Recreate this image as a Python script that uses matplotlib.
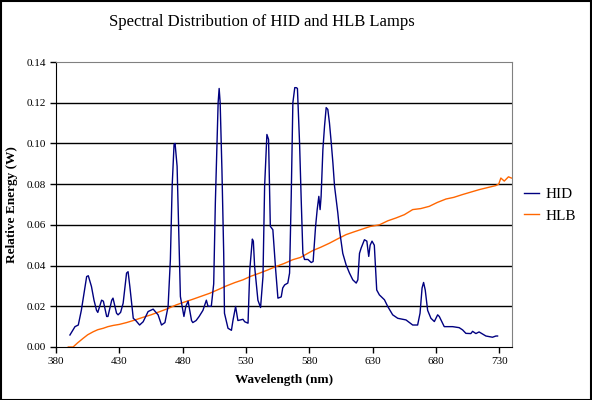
import matplotlib
matplotlib.use("Agg")
import matplotlib.pyplot as plt
from matplotlib.patches import Rectangle

# HID spectrum: (wavelength nm, relative energy W)
hid_points = [
    (391, 0.0059), (395, 0.0100), (397.6, 0.0108), (400, 0.0180), (402, 0.0260),
    (404.2, 0.0346), (405.5, 0.0350), (408, 0.0297), (410, 0.0230), (412, 0.0180),
    (413, 0.0170), (416, 0.0230), (417.4, 0.0225), (420, 0.0150), (421, 0.0150),
    (424, 0.0230), (425, 0.0240), (427.8, 0.0166), (429, 0.0158), (431, 0.0170),
    (433, 0.0215), (435.7, 0.0363), (436.9, 0.0370), (438.3, 0.0297), (441, 0.0141),
    (443, 0.0130), (446, 0.0108), (448.8, 0.0124), (452.7, 0.0174), (456.7, 0.0186),
    (460.6, 0.0158), (463.3, 0.0108), (466, 0.0120), (468.5, 0.0199), (470.3, 0.0430),
    (471.7, 0.0790), (473.2, 0.0995), (474, 0.1000), (475.6, 0.0888), (477, 0.0540),
    (478.2, 0.0248), (481, 0.0150), (482.5, 0.0200), (484.3, 0.0225), (487, 0.0130),
    (488, 0.0120), (490.6, 0.0130), (493, 0.0150), (496, 0.0180), (498.7, 0.0230),
    (500, 0.0200), (502.6, 0.0200), (504.5, 0.0310), (505.8, 0.0708), (507, 0.0987),
    (508, 0.1200), (508.8, 0.1270), (509.6, 0.1200), (511, 0.0870), (512.4, 0.0460),
    (513, 0.0166), (515.8, 0.0092), (518.5, 0.0082), (519.7, 0.0130), (521.8, 0.0199),
    (523.6, 0.0130), (527.6, 0.0136), (529, 0.0124), (531.6, 0.0117), (533, 0.0380),
    (535, 0.0530), (535.8, 0.0520), (536.8, 0.0396), (539.4, 0.0230), (541.5, 0.0194),
    (543.4, 0.0346), (544.7, 0.0790), (546.5, 0.1044), (547.8, 0.1020), (549.2, 0.0593),
    (551.2, 0.0576), (553.4, 0.0380), (555.2, 0.0240), (557.8, 0.0246), (559, 0.0290),
    (560.5, 0.0305), (563, 0.0314), (564.4, 0.0363), (565.7, 0.0740), (567, 0.1200),
    (568.5, 0.1274), (569.7, 0.1274), (570.6, 0.1270), (572.3, 0.1000), (573.6, 0.0720),
    (574.9, 0.0460), (576.2, 0.0430), (578.9, 0.0430), (581.5, 0.0415), (583, 0.0420),
    (584.9, 0.0590), (586.2, 0.0675), (587.5, 0.0740), (588.5, 0.0675), (589.3, 0.0740),
    (590.7, 0.0970), (592, 0.1085), (593.3, 0.1176), (594.6, 0.1167), (595.9, 0.1100),
    (597.3, 0.1003), (598.6, 0.0905), (599.9, 0.0790), (602.5, 0.0658), (603.8, 0.0576),
    (606.4, 0.0460), (609, 0.0404), (611.7, 0.0363), (614.3, 0.0330), (617, 0.0314),
    (618.3, 0.0330), (619.6, 0.0460), (620.9, 0.0486), (623.5, 0.0527), (625.4, 0.0520),
    (626.9, 0.0445), (628, 0.0500), (629.5, 0.0520), (631.3, 0.0500), (633.2, 0.0280),
    (635.3, 0.0256), (639.3, 0.0232), (641.9, 0.0199), (645.8, 0.0158), (649.8, 0.0141),
    (656.3, 0.0133), (661.6, 0.0108), (665.5, 0.0108), (667.4, 0.0166), (669, 0.0290),
    (670.2, 0.0317), (671.5, 0.0280), (673.4, 0.0180), (676, 0.0141), (678.7, 0.0125),
    (681.3, 0.0158), (682.6, 0.0150), (686.5, 0.0100), (693.1, 0.0100), (698.3, 0.0095),
    (701, 0.0084), (703.6, 0.0067), (707.5, 0.0066), (708.9, 0.0077), (711.5, 0.0066),
    (714, 0.0074), (719.4, 0.0054), (724.6, 0.0048), (727.3, 0.0054), (728.6, 0.0054),
]

# HLB spectrum
hlb_points = [
    (389.7, 0.0000), (393.5, 0.0000), (397, 0.0020), (401.5, 0.0043), (405, 0.0060),
    (409.4, 0.0075), (413, 0.0085), (417.3, 0.0092), (421, 0.0100), (425.2, 0.0106),
    (430, 0.0111), (435.7, 0.0120), (442, 0.0132), (448.8, 0.0146), (455, 0.0158),
    (462, 0.0174), (468, 0.0188), (475, 0.0207), (481, 0.0220), (488.2, 0.0235),
    (495, 0.0250), (501.4, 0.0264), (508, 0.0282), (514.5, 0.0300), (521, 0.0316),
    (527.6, 0.0330), (534, 0.0348), (540.8, 0.0363), (547, 0.0378), (553.9, 0.0396),
    (560, 0.0410), (567, 0.0429), (573, 0.0440), (582.8, 0.0474), (589, 0.0490),
    (595.9, 0.0510), (602, 0.0530), (609, 0.0552), (615, 0.0565), (622.2, 0.0580),
    (628, 0.0592), (635.3, 0.0600), (642, 0.0620), (648.5, 0.0634), (655, 0.0650),
    (661.6, 0.0675), (668, 0.0680), (674.7, 0.0691), (681, 0.0710), (687.9, 0.0727),
    (694, 0.0735), (701, 0.0749), (707, 0.0760), (714.1, 0.0773), (720, 0.0782),
    (727.3, 0.0793), (729.5, 0.0800), (731.2, 0.0830), (733.9, 0.0815), (737.2, 0.0836),
    (739.5, 0.0830),
]

hid_nm = [p[0] for p in hid_points]
hid_val = [p[1] for p in hid_points]
hlb_nm = [p[0] for p in hlb_points]
hlb_val = [p[1] for p in hlb_points]

xticks = [380, 430, 480, 530, 580, 630, 680, 730]
yticks = [0.00, 0.02, 0.04, 0.06, 0.08, 0.10, 0.12, 0.14]

plt.rcParams['font.family'] = ['Liberation Serif', 'DejaVu Serif']

fig = plt.figure(figsize=(5.92, 4.0), dpi=100)
ax = fig.add_axes([56 / 592, 1 - 347 / 400, (512 - 56) / 592, (347 - 62) / 400])

for y in yticks[1:-1]:
    ax.axhline(y, color='black', lw=1.0, zorder=1)

ax.plot(hid_nm, hid_val, color='#000080', lw=1.0, label='HID', zorder=3)
ax.plot(hlb_nm, hlb_val, color='#FF6600', lw=1.0, label='HLB', zorder=2)

ax.set_xlim(380, 740)
ax.set_ylim(0, 0.14)
ax.set_xticks(xticks)
ax.set_yticks(yticks)
ax.set_yticklabels(['%.2f' % v for v in yticks])
ax.tick_params(direction='out', length=4, width=1, labelsize=8, pad=3)

for s in ['top', 'right']:
    ax.spines[s].set_color('#808080')
for s in ['left', 'bottom']:
    ax.spines[s].set_color('black')

ax.set_xlabel('Wavelength (nm)', fontsize=9.5, fontweight='bold', labelpad=6)
ax.set_ylabel('Relative Energy (W)', fontsize=9.5, fontweight='bold', labelpad=6)

fig.text(262 / 592, 1 - 22 / 400, 'Spectral Distribution of HID and HLB Lamps',
         ha='center', va='center', fontsize=12)

fig.legend(loc='center left', bbox_to_anchor=(524 / 592, 1 - 205 / 400),
           frameon=False, fontsize=11, handlelength=1.0, handletextpad=0.4,
           labelspacing=0.5, borderaxespad=0, borderpad=0)

fig.patches.append(Rectangle((0.001, 0.001), 0.997, 0.996, transform=fig.transFigure,
                             fill=False, edgecolor='black', lw=1.5))

fig.savefig('out.png', dpi=100)
